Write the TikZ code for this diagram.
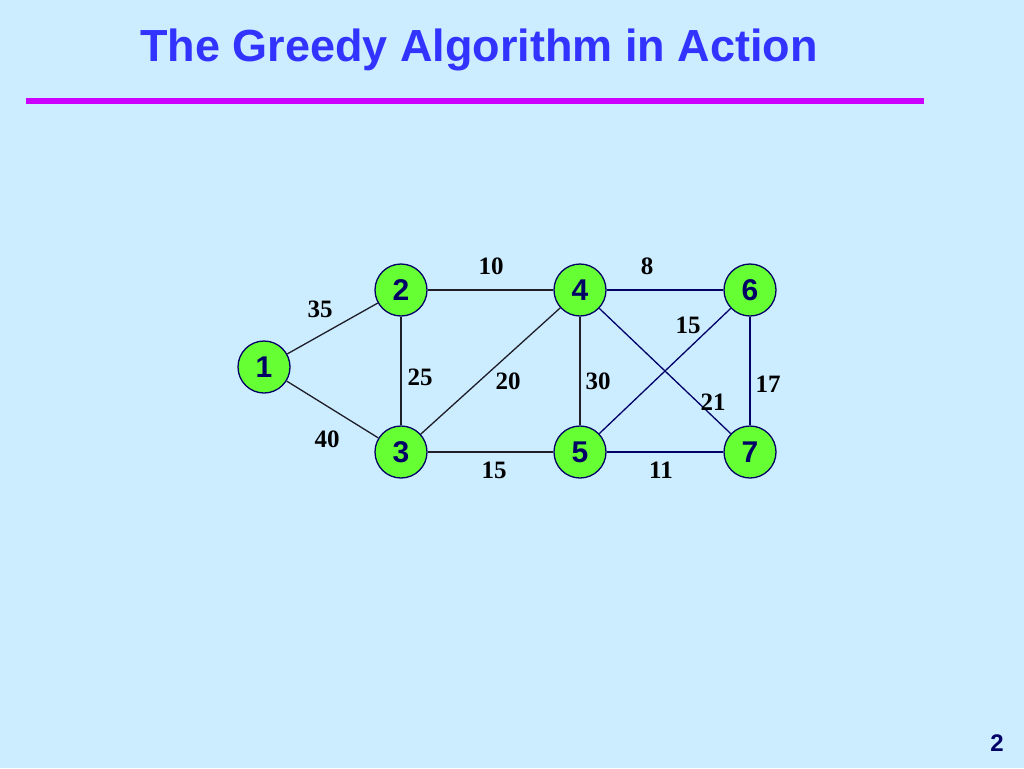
\documentclass[tikz,border=0pt]{standalone}
\usepackage{fontspec}
\setmainfont{Liberation Serif}
\setsansfont{Liberation Sans}
\definecolor{bg}{RGB}{204,236,255}
\definecolor{titleblue}{RGB}{51,51,255}
\definecolor{rule}{RGB}{204,0,255}
\definecolor{nodegreen}{RGB}{102,255,51}
\definecolor{navy}{RGB}{0,0,102}
\definecolor{darkedge}{RGB}{30,30,40}
\begin{document}
\begin{tikzpicture}[x=1pt,y=-1pt,
  vert/.style={circle,draw=navy,line width=1.3pt,fill=nodegreen,minimum size=52pt,inner sep=0pt,
     font=\sffamily\bfseries\fontsize{30}{30}\selectfont,text=navy},
  edgeL/.style={draw=darkedge,line width=1.3pt},
  edgeR/.style={draw=navy,line width=1.3pt},
  wlabel/.style={font=\rmfamily\bfseries\fontsize{25}{25}\selectfont,text=black,inner sep=0pt}]
\fill[bg] (0,0) rectangle (1024,768);
\useasboundingbox (0,0) rectangle (1024,768);
\node[anchor=base west,inner sep=0pt,text=titleblue,font=\sffamily\bfseries\fontsize{45}{45}\selectfont] (title) at (140,62) {The Greedy Algorithm in Action};
\draw[rule,line width=6pt] (26,101) -- (924,101);
\node[vert] (n1) at (264,367) {1};
\node[vert] (n2) at (401,290) {2};
\node[vert] (n3) at (401,452) {3};
\node[vert] (n4) at (580,290) {4};
\node[vert] (n5) at (580,452) {5};
\node[vert] (n6) at (750,290) {6};
\node[vert] (n7) at (750,452) {7};
\path[edgeL] (n1) -- (n2);
\path[edgeL] (n1) -- (n3);
\path[edgeL] (n2) -- (n4);
\path[edgeL] (n2) -- (n3);
\path[edgeL] (n3) -- (n4);
\path[edgeL] (n3) -- (n5);
\path[edgeL] (n4) -- (n5);
\path[edgeR] (n4) -- (n6);
\path[edgeR] (n4) -- (n7);
\path[edgeR] (n5) -- (n6);
\path[edgeR] (n5) -- (n7);
\path[edgeR] (n6) -- (n7);
\node[wlabel] (w12) at (320,309) {35};
\node[wlabel] (w13) at (327,439) {40};
\node[wlabel] (w24) at (491,266) {10};
\node[wlabel] (w23) at (420,377) {25};
\node[wlabel] (w34) at (508,381) {20};
\node[wlabel] (w35) at (494,470) {15};
\node[wlabel] (w45) at (598,381) {30};
\node[wlabel] (w46) at (647,266) {8};
\node[wlabel] (w56) at (688,325) {15};
\node[wlabel] (w47) at (713,402) {21};
\node[wlabel] (w67) at (768,384) {17};
\node[wlabel] (w57) at (661,470) {11};
\node[inner sep=0pt,text=navy,font=\sffamily\bfseries\fontsize{24}{24}\selectfont] (page) at (997,743) {2};
\end{tikzpicture}
\end{document}
